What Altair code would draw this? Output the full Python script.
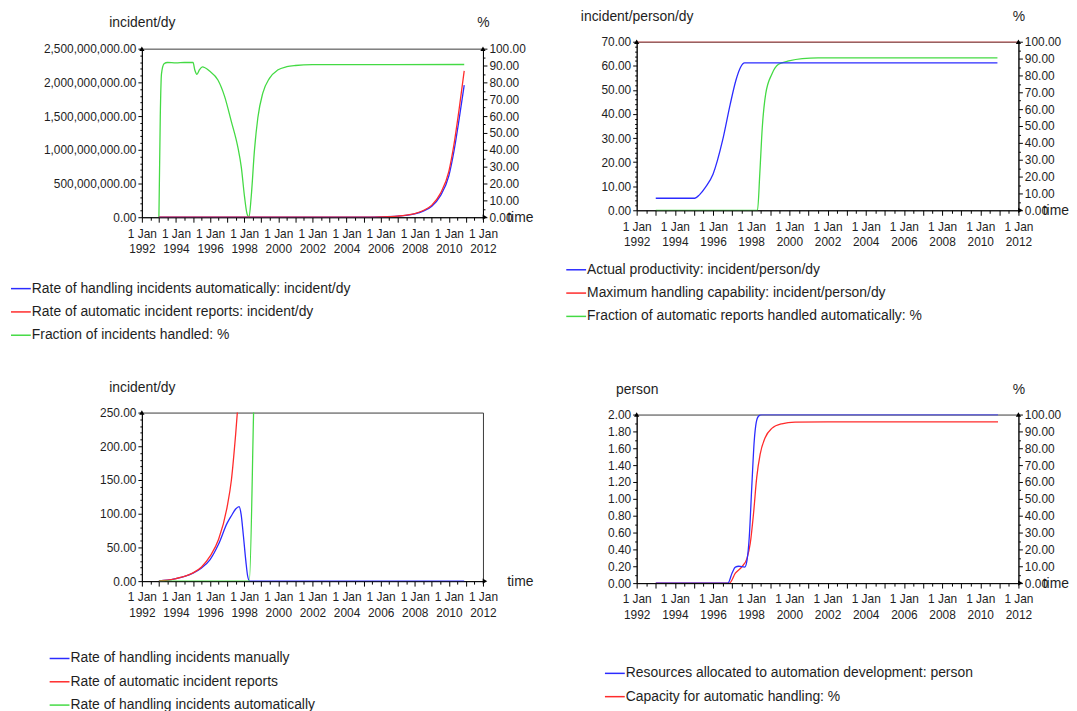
import altair as alt
import pandas as pd

FONT = "Liberation Sans"
BLUE = "#2b2bff"
RED = "#ff2b2b"
GREEN = "#44da44"

# ---------------- data (time in decimal years) ----------------
T_RATE = [1993.0, 1993.5, 1994.0, 1994.5, 1995.0, 1995.5, 1996.0, 1996.5, 1997.0,
          1997.25, 1997.5, 1997.75, 1998.0, 1998.3, 1998.55, 1998.8, 1999.0, 1999.5,
          2000.0, 2001.0, 2002.0, 2003.0, 2004.0, 2005.0, 2006.0, 2007.0,
          2007.5, 2008.0, 2008.5, 2009.0, 2009.5, 2010.0, 2010.3, 2010.6, 2010.9]
REPORTS = [0.5, 1.6, 3.9, 7.0, 12.3, 21.0, 37.0, 62.0, 110.0,
           150.0, 218.0, 300.0, 400.0, 560.0, 760.0, 1000.0, 1300.0, 2400.0,
           4300.0, 14000.0, 46000.0, 150000.0, 500000.0, 1.6e6, 5.3e6, 1.7e7,
           3.0e7, 5.5e7, 1.0e8, 1.8e8, 3.5e8, 6.8e8, 1.08e9, 1.6e9, 2.17e9]
AUTO = [0.0, 0.0, 0.0, 0.0, 0.0, 0.0, 0.0, 0.0, 0.0,
        0.0, 0.0, 0.0, 0.0, 0.0, 250.0, 560.0, 930.0, 1950.0,
        3750.0, 12600.0, 41600.0, 136000.0, 452000.0, 1.45e6, 4.8e6, 1.54e7,
        2.72e7, 4.98e7, 9.06e7, 1.63e8, 3.17e8, 6.15e8, 9.8e8, 1.45e9, 1.96e9]

T_MAN = [1993.0, 1993.5, 1994.0, 1994.5, 1995.0, 1995.5, 1996.0, 1996.5, 1997.0,
         1997.25, 1997.5, 1997.7, 1997.82, 1997.95, 1998.1, 1998.2, 1998.32, 2010.9]
MANUAL = [0.5, 1.6, 3.9, 7.0, 12.0, 19.6, 32.0, 55.0, 86.0,
          97.0, 107.0, 110.5, 99.0, 68.0, 29.0, 8.0, 0.0, 0.0]

T_FH = [1993.0, 1993.08, 1993.15, 1993.3, 1993.5, 1994.0, 1994.5, 1995.0,
        1995.1, 1995.23, 1995.38, 1995.55, 1995.97, 1996.46, 1996.85, 1997.24,
        1997.63, 1997.83, 1998.02, 1998.16, 1998.28, 1998.41, 1998.6, 1998.8,
        1999.09, 1999.48, 1999.96, 2000.5, 2001.0, 2002.0, 2010.9]
FRAC_HANDLED = [0.0, 60.0, 85.0, 91.0, 91.8, 91.6, 91.8, 91.8,
                87.5, 84.8, 87.5, 89.2, 86.7, 81.4, 71.7, 57.0,
                41.4, 29.7, 12.1, 2.3, 0.0, 12.0, 39.5, 59.0,
                73.6, 82.4, 87.3, 89.3, 90.0, 90.5, 90.6]

T_PROD = [1993.0, 1995.05, 1995.3, 1995.6, 1996.0, 1996.5, 1996.9, 1997.2, 1997.45, 1997.65, 2010.9]
PRODUCTIVITY = [5.0, 5.0, 6.5, 9.5, 15.0, 29.0, 44.0, 54.0, 59.5, 61.2, 61.2]
T_CAP = [1992.0, 2012.0]
MAX_CAPABILITY = [70.0, 70.0]
T_FA = [1993.0, 1998.33, 1998.45, 1998.58, 1998.76, 1999.08, 1999.43, 1999.97, 2000.68, 2001.5, 2010.9]
FRAC_AUTO = [0.0, 0.0, 21.6, 49.0, 69.0, 80.7, 86.6, 88.6, 90.0, 90.4, 90.4]

T_RES = [1993.0, 1996.78, 1997.0, 1997.17, 1997.35, 1997.66, 1997.78, 1997.9,
         1998.03, 1998.16, 1998.26, 1998.38, 1998.55, 2010.93]
RESOURCES = [0.0, 0.0, 0.12, 0.19, 0.2, 0.19, 0.27, 0.55,
             1.14, 1.69, 1.9, 1.98, 2.0, 2.0]
T_CAPA = [1993.0, 1996.86, 1997.17, 1997.52, 1997.78, 1997.95, 1998.12, 1998.29,
          1998.47, 1998.73, 1999.08, 1999.6, 2000.3, 2002.0, 2010.93]
CAPACITY = [0.0, 0.0, 5.9, 9.8, 14.7, 23.5, 41.0, 62.7,
            76.5, 86.3, 91.8, 94.5, 95.5, 95.7, 95.7]

P1_NAMES = ["Rate of handling incidents automatically: incident/dy",
            "Rate of automatic incident reports: incident/dy",
            "Fraction of incidents handled: %"]
P2_NAMES = ["Actual productivity: incident/person/dy",
            "Maximum handling capability: incident/person/dy",
            "Fraction of automatic reports handled automatically: %"]
P3_NAMES = ["Rate of handling incidents manually",
            "Rate of automatic incident reports",
            "Rate of handling incidents automatically"]
P4_NAMES = ["Resources allocated to automation development: person",
            "Capacity for automatic handling: %"]

X_TICKS = [1992 + 0.5 * i for i in range(41)]
ONE = pd.DataFrame({"k": [0]})


def long_df(series):
    rows = []
    for name, ts, vs in series:
        for t, v in zip(ts, vs):
            rows.append({"t": t, "v": v, "s": name})
    return pd.DataFrame(rows)


def x_enc(width):
    return alt.X(
        "t:Q",
        scale=alt.Scale(domain=[1992, 2012], nice=False, zero=False),
        axis=alt.Axis(
            values=X_TICKS,
            labelExpr="datum.value % 2 === 0 ? ['1 Jan', format(datum.value, 'd')] : ''",
            labelOverlap=False, labelFlush=False, labelPadding=6, labelLineHeight=16,
            tickSize={"condition": {"test": "datum.value % 1 === 0", "value": 5}, "value": 3},
            title="time", titleX=width + 24, titleY=0, titleAlign="left",
            titleBaseline="middle", titleAngle=0,
        ),
    )


def y_enc(orient, top, step, every, fmt, title, title_y):
    n = int(round(top / step))
    ticks = [round(i * step, 4) for i in range(n + 1)]
    test = f"round(datum.value / {step}) % {every} === 0"
    return alt.Y(
        "v:Q",
        scale=alt.Scale(domain=[0, top], nice=False, zero=True),
        axis=alt.Axis(
            orient=orient, values=ticks,
            labelExpr=f"{test} ? format(datum.value, '{fmt}') : ''",
            labelOverlap=False, labelPadding=2,
            tickSize={"condition": {"test": test, "value": 4}, "value": 2},
            title=title, titleAngle=0, titleX=0, titleY=title_y,
            titleAlign="center", titleBaseline="middle",
        ),
    )


def arrow(x, y, shape):
    return alt.Chart(ONE).mark_point(shape=shape, filled=True, color="#000", size=28, opacity=1).encode(
        x=alt.value(x), y=alt.value(y))


def panel(names, colors, left_series, left_y, right_series, right_y, width, height, legend_xy):
    legend = alt.Legend(orient="none", legendX=legend_xy[0], legendY=legend_xy[1],
                        direction="vertical", title=None)
    color = alt.Color("s:N", scale=alt.Scale(domain=names, range=colors), legend=legend)
    x = x_enc(width)
    layers = []
    if right_series:
        layers.append(alt.Chart(long_df(right_series)).mark_line(
            strokeWidth=1.3, interpolate="monotone", clip=True).encode(x=x, y=right_y, color=color))
    layers.append(alt.Chart(long_df(left_series)).mark_line(
        strokeWidth=1.3, interpolate="monotone", clip=True).encode(x=x, y=left_y, color=color))
    layers.append(arrow(0, 0, "triangle-up"))
    if right_series:
        layers.append(arrow(width, 0, "triangle-up"))
    layers.append(arrow(width + 2, height, "triangle-right"))
    return alt.layer(*layers).resolve_scale(y="independent").properties(width=width, height=height)


W1, W2, H = 344, 385, 170

p1 = panel(P1_NAMES, [BLUE, RED, GREEN],
           [(P1_NAMES[0], T_RATE, AUTO), (P1_NAMES[1], T_RATE, REPORTS)],
           y_enc("left", 2.5e9, 1e8, 5, ",.2f", "incident/dy", -26),
           [(P1_NAMES[2], T_FH, FRAC_HANDLED)],
           y_enc("right", 100, 5, 2, ".2f", "%", -26),
           W1, H, (-133, 231))

p2 = panel(P2_NAMES, [BLUE, RED, GREEN],
           [(P2_NAMES[0], T_PROD, PRODUCTIVITY), (P2_NAMES[1], T_CAP, MAX_CAPABILITY)],
           y_enc("left", 70, 2, 5, ".2f", "incident/person/dy", -25),
           [(P2_NAMES[2], T_FA, FRAC_AUTO)],
           y_enc("right", 100, 5, 2, ".2f", "%", -25),
           W2, H, (-72, 219))

p3 = panel(P3_NAMES, [BLUE, RED, GREEN],
           [(P3_NAMES[0], T_MAN, MANUAL), (P3_NAMES[1], T_RATE, REPORTS), (P3_NAMES[2], T_RATE, AUTO)],
           y_enc("left", 250, 10, 5, ".2f", "incident/dy", -25),
           None, None,
           W1, H, (-94, 237))

p4 = panel(P4_NAMES, [BLUE, RED],
           [(P4_NAMES[0], T_RES, RESOURCES)],
           y_enc("left", 2, 0.1, 2, ".2f", "person", -25),
           [(P4_NAMES[1], T_CAPA, CAPACITY)],
           y_enc("right", 100, 5, 2, ".2f", "%", -25),
           W2, H, (-33, 250))


def spacer(width, height):
    # invisible layout cell used only to offset the panels of a column
    return alt.Chart(ONE).mark_point(opacity=0).encode(
        x=alt.value(0), y=alt.value(0)).properties(
        width=width, height=height, view=alt.ViewBackground(stroke="transparent"))


def indep(c):
    return c.resolve_scale(color="independent", y="independent", x="independent").resolve_legend(
        color="independent")


left_col = indep(alt.vconcat(spacer(W1, 7), p1, spacer(W1, 197), p3, spacing=0, bounds="flush"))
right_col = indep(alt.vconcat(p2, spacer(W2, 206), p4, spacing=0, bounds="flush"))
# nested flush columns are laid out with zero width, so the spacing carries the left column's width
chart = indep(alt.hconcat(left_col, right_col, spacing=W1 + 155, bounds="flush"))

chart = chart.properties(
    padding={"left": 1, "top": -2, "right": 0, "bottom": 0},
    background="white",
).configure_view(
    stroke="#3a3a3a", strokeWidth=1,
).configure_axis(
    labelFont=FONT, labelFontSize=12, labelColor="#1e1e1e",
    titleFont=FONT, titleFontSize=14, titleFontWeight="normal", titleColor="#1e1e1e",
    domainColor="#000", tickColor="#000", grid=False,
).configure_legend(
    labelFont=FONT, labelFontSize=14, labelColor="#1e1e1e", labelLimit=0,
    symbolType="stroke", symbolSize=400, symbolStrokeWidth=1.5, rowPadding=5.5,
    labelOffset=0, padding=0,
)

chart.save("out.html", embed_options={"renderer": "svg", "actions": False})
